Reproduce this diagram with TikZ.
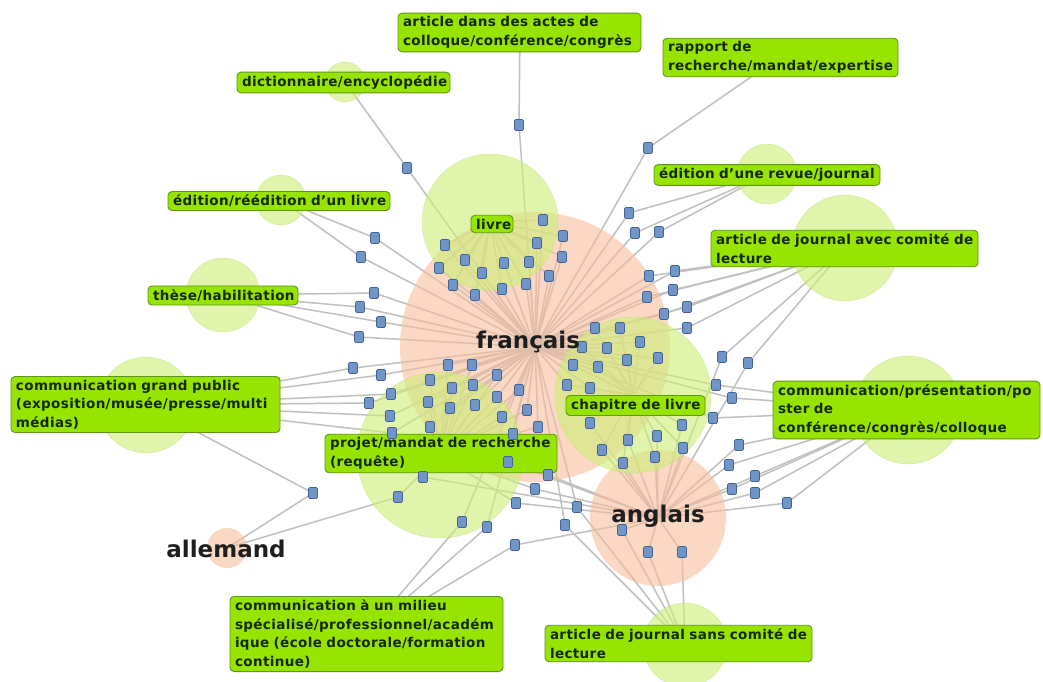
\documentclass[tikz,border=0pt]{standalone}
\usepackage{fontspec}
\newfontfamily\labfont[LetterSpace=2.8]{DejaVu Sans}
\newfontfamily\langfont{DejaVu Sans}
\pgfdeclarelayer{bg}
\pgfdeclarelayer{edges}
\pgfdeclarelayer{circles}
\pgfsetlayers{bg,edges,circles,main}
\definecolor{edgec}{RGB}{192,192,192}
\definecolor{greenc}{RGB}{205,238,120}
\definecolor{greenb}{RGB}{185,225,100}
\definecolor{salmon}{RGB}{247,190,155}
\definecolor{labfill}{RGB}{150,228,0}
\definecolor{labdraw}{RGB}{95,150,25}
\definecolor{labtext}{RGB}{22,40,0}
\definecolor{sqfill}{RGB}{112,150,200}
\definecolor{sqdraw}{RGB}{68,98,148}
\definecolor{langtext}{RGB}{30,30,30}
\tikzset{
 edge/.style={draw=edgec, line width=1.5pt},
 gcirc/.style={fill=greenc, fill opacity=0.62, draw=greenb, draw opacity=0.5},
 scirc/.style={fill=salmon, fill opacity=0.6},
 lab/.style={draw=labdraw, fill=labfill, line width=0.9pt, rounded corners=4pt, text=labtext,
   font=\labfont\bfseries\fontsize{13.5}{18.5}\selectfont, inner xsep=5pt, inner ysep=3.5pt, align=left},
 sq/.style={draw=sqdraw, fill=sqfill, line width=0.6pt, rounded corners=1.2pt,
   minimum width=9pt, minimum height=11pt, inner sep=0pt},
 lang/.style={text=langtext, font=\langfont\bfseries\fontsize{23}{26}\selectfont, inner sep=0pt},
}
\def\sqlist{1/407/168/cDic/fr,2/519/125/cAct/fr,3/648/148/cRap/fr,
4/375/238/cEdl/fr,5/361/257/cEdl/fr,
6/374/293/cThe/fr,7/360/307/cThe/fr,8/381/322/cThe/fr,9/359/337/cThe/fr,
10/543/220/cLiv/fr,11/563/236/cLiv/fr,12/537/243/cLiv/fr,13/562/257/cLiv/fr,14/445/245/cLiv/fr,
15/465/260/cLiv/fr,16/439/268/cLiv/fr,17/482/273/cLiv/fr,18/504/263/cLiv/fr,19/529/262/cLiv/fr,
20/549/276/cLiv/fr,21/453/285/cLiv/fr,22/475/295/cLiv/fr,23/502/289/cLiv/fr,24/526/284/cLiv/fr,
25/629/213/cRev/fr,26/635/233/cRev/fr,27/659/232/cRev/fr,
28/649/276/cCom/fr,29/675/271/cCom/fr,30/647/297/cCom/fr,31/673/290/cCom/fr,32/664/314/cCom/fr,
33/687/307/cCom/fr,34/687/328/cCom/fr,35/722/357/cCom/en,36/748/363/cCom/en,
37/716/385/cPre/fr,38/732/398/cPre/fr,39/713/418/cPre/fr,
40/739/445/cPre/en,41/729/465/cPre/en,42/755/476/cPre/en,43/732/489/cPre/en,44/755/493/cPre/en,45/787/503/cPre/en,
46/595/328/cCha/fr,47/620/328/cCha/fr,48/582/347/cCha/fr,49/607/348/cCha/fr,50/640/342/cCha/fr,
51/573/365/cCha/fr,52/598/367/cCha/fr,53/627/360/cCha/fr,54/658/358/cCha/fr,55/567/385/cCha/fr,56/590/388/cCha/fr,
57/590/423/cCha/en,58/602/450/cCha/en,59/628/440/cCha/en,60/623/463/cCha/en,61/657/436/cCha/en,
62/655/457/cCha/en,63/682/425/cCha/en,64/683/448/cCha/en,
65/430/380/cPro/fr,66/448/365/cPro/fr,67/472/365/cPro/fr,68/452/388/cPro/fr,69/473/385/cPro/fr,
70/497/375/cPro/fr,71/428/402/cPro/fr,72/450/408/cPro/fr,73/475/405/cPro/fr,74/497/397/cPro/fr,
75/519/390/cPro/fr,76/502/417/cPro/fr,77/527/410/cPro/fr,78/430/427/cPro/fr,79/513/434/cPro/fr,80/538/427/cPro/fr,
81/508/462/cPro/en,82/548/475/cPro/en,83/535/489/cPro/en,84/516/503/cPro/en,85/423/477/cPro/en,
86/398/497/cPro/de,
87/353/368/cGp/fr,88/381/375/cGp/fr,89/369/403/cGp/fr,90/391/394/cGp/fr,91/390/416/cGp/fr,92/392/433/cGp/fr,
93/313/493/cGp/de,
94/462/522/cMil/fr,95/487/527/cMil/fr,96/515/545/cMil/en,
97/577/507/cSan/fr,98/565/525/cSan/fr,99/622/530/cSan/en,100/648/552/cSan/en,101/682/552/cSan/en}
\begin{document}
\begin{tikzpicture}[x=1pt,y=-1pt]
\useasboundingbox (0,0) rectangle (1043,681);
\begin{pgfonlayer}{bg}
\fill[white] (0,0) rectangle (1043,681);
\end{pgfonlayer}
% hubs
\coordinate (fr) at (535,347);
\coordinate (en) at (658,518);
\coordinate (de) at (227,548);
\coordinate (cDic) at (345,82);
\coordinate (cAct) at (520,32);
\coordinate (cRap) at (780,57);
\coordinate (cEdl) at (281,200);
\coordinate (cRev) at (767,174);
\coordinate (cLiv) at (490,222);
\coordinate (cCom) at (845,248);
\coordinate (cThe) at (223,295);
\coordinate (cGp) at (146,405);
\coordinate (cCha) at (633,395);
\coordinate (cPre) at (908,410);
\coordinate (cPro) at (440,455);
\coordinate (cMil) at (366,634);
\coordinate (cSan) at (685,645);
% circles
\begin{pgfonlayer}{circles}
\fill[scirc] (fr) circle[radius=135pt];
\fill[scirc] (en) circle[radius=68pt];
\fill[scirc] (de) circle[radius=20pt];
\filldraw[gcirc] (cLiv) circle[radius=68pt];
\filldraw[gcirc] (cDic) circle[radius=20pt];
\filldraw[gcirc] (cEdl) circle[radius=25pt];
\filldraw[gcirc] (cThe) circle[radius=37pt];
\filldraw[gcirc] (cGp) circle[radius=48pt];
\filldraw[gcirc] (cRev) circle[radius=30pt];
\filldraw[gcirc] (cCom) circle[radius=53pt];
\filldraw[gcirc] (cPre) circle[radius=54pt];
\filldraw[gcirc] (cCha) circle[radius=78pt];
\filldraw[gcirc] (cPro) circle[radius=83pt];
\filldraw[gcirc] (cSan) circle[radius=42pt];
\end{pgfonlayer}
% labels
\node[lab, text width=233pt] (Lact) at (519.5,32.5) {\mbox{article dans des actes de}\\\mbox{colloque/conférence/congrès}};
\node[lab, text width=225pt] (Lrap) at (780.5,57.5) {\mbox{rapport de}\\\mbox{recherche/mandat/expertise}};
\node[lab, text width=203pt] (Ldic) at (343.5,82.5) {\mbox{dictionnaire/encyclopédie}};
\node[lab, text width=212pt] (Ledl) at (279,201) {\mbox{édition/réédition d’un livre}};
\node[lab, text width=216pt] (Lrev) at (767,175) {\mbox{édition d’une revue/journal}};
\node[lab, text width=32pt] (Lliv) at (492,224) {\mbox{livre}};
\node[lab, text width=257pt] (Lcom) at (844.5,248.5) {\mbox{article de journal avec comité de}\\\mbox{lecture}};
\node[lab, text width=140pt] (Lthe) at (223,295.5) {\mbox{thèse/habilitation}};
\node[lab, text width=259pt] (Lgp) at (145.5,404.5) {\mbox{communication grand public}\\\mbox{(exposition/musée/presse/multi}\\\mbox{médias)}};
\node[lab, text width=129pt] (Lcha) at (635.5,405.5) {\mbox{chapitre de livre}};
\node[lab, text width=257pt] (Lpre) at (906.5,410) {\mbox{communication/présentation/po}\\\mbox{ster de}\\\mbox{conférence/congrès/colloque}};
\node[lab, text width=222pt] (Lpro) at (441,453.5) {\mbox{projet/mandat de recherche}\\\mbox{(requête)}};
\node[lab, text width=263pt] (Lmil) at (366.5,634) {\mbox{communication à un milieu}\\\mbox{spécialisé/professionnel/académ}\\\mbox{ique (école doctorale/formation}\\\mbox{continue)}};
\node[lab, text width=257pt] (Lsan) at (678.5,643.5) {\mbox{article de journal sans comité de}\\\mbox{lecture}};
% squares
\foreach \i/\x/\y/\c/\l in \sqlist {\node[sq] (s\i) at (\x,\y) {};}
\begin{pgfonlayer}{edges}
\foreach \i/\x/\y/\c/\l in \sqlist {\draw[edge] (\c) -- (s\i) -- (\l);}
\end{pgfonlayer}
% language labels
\node[lang] (Tfr) at (528,342) {français};
\node[lang] (Ten) at (658,516) {anglais};
\node[lang] (Tde) at (226,549) {allemand};
\end{tikzpicture}
\end{document}
